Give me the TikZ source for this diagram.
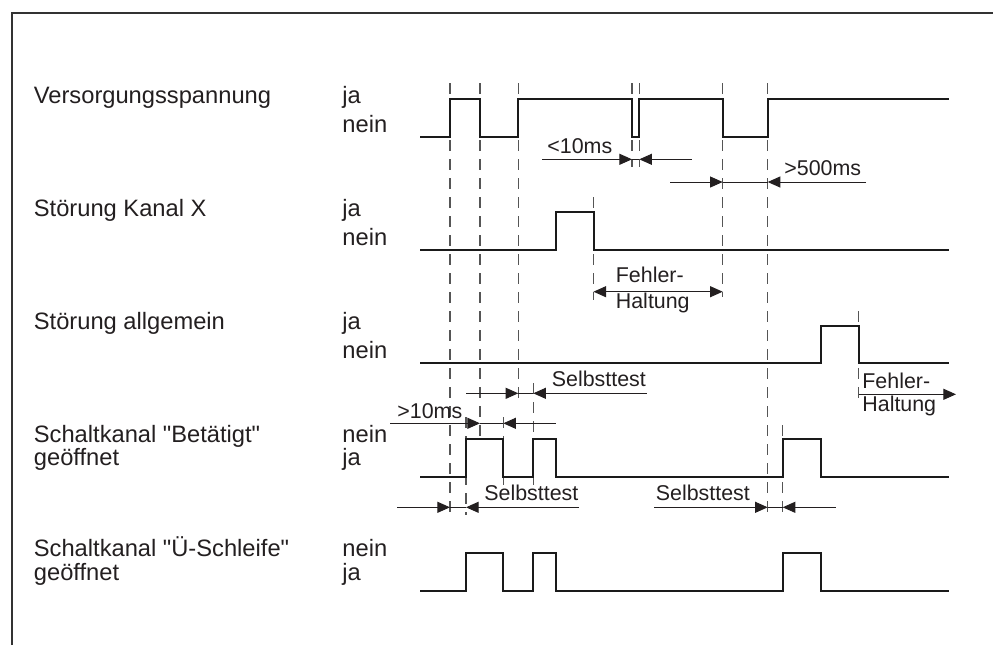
\documentclass[tikz,border=0pt]{standalone}
\usepackage{fontspec}
\setmainfont{Liberation Sans}[Ligatures=TeXOff]
\usetikzlibrary{arrows.meta}
\definecolor{ink}{HTML}{231F20}
\definecolor{wavec}{HTML}{1A1A1A}
\definecolor{guidec}{HTML}{555555}
\definecolor{framec}{HTML}{333333}
\begin{document}
\begin{tikzpicture}[x=0.5pt,y=-0.5pt,
  lbl/.style={anchor=west, inner sep=0pt, text height=0.72em, text depth=0.21em, font=\fontsize{11.85}{14}\selectfont, text=ink},
  ann/.style={anchor=west, inner sep=0pt, text height=0.72em, text depth=0.21em, font=\fontsize{10.7}{12.8}\selectfont, text=ink},
  wave/.style={line width=1pt, draw=wavec, line join=miter},
  guide/.style={line width=0.55pt, draw=guidec, dash pattern=on 5.5pt off 4pt},
  dim/.style={line width=0.5pt, draw=ink, -{Triangle[length=6.3pt,width=5.5pt]}},
  dimboth/.style={line width=0.5pt, draw=ink, {Triangle[length=6.3pt,width=5.5pt]}-{Triangle[length=6.3pt,width=5.5pt]}},
  dimline/.style={line width=0.5pt, draw=ink},
  frameline/.style={line width=0.7pt, draw=framec}
]
\useasboundingbox (0,0) rectangle (993,645);
% frame
\coordinate (fb) at (12,645);
\coordinate (fr) at (993,13);
\draw[frameline] (fb) |- (fr);

% ---------- labels ----------
\node[lbl] (l1) at (33.5,98) {Versorgungsspannung};
\node[lbl] (l2) at (33.5,211) {Störung Kanal X};
\node[lbl] (l3) at (33.5,324) {Störung allgemein};
\node[lbl] (l4a) at (33.5,437) {Schaltkanal "Betätigt"};
\node[lbl] (l4b) at (33.5,460) {geöffnet};
\node[lbl] (l5a) at (33.5,551) {Schaltkanal "Ü-Schleife"};
\node[lbl] (l5b) at (33.5,575) {geöffnet};

\node[lbl] (j1) at (342,98) {ja};
\node[lbl] (n1) at (342,127) {nein};
\node[lbl] (j2) at (342,211) {ja};
\node[lbl] (n2) at (342,240) {nein};
\node[lbl] (j3) at (342,324) {ja};
\node[lbl] (n3) at (342,353) {nein};
\node[lbl] (n4) at (342,437) {nein};
\node[lbl] (j4) at (342,460) {ja};
\node[lbl] (n5) at (342,551) {nein};
\node[lbl] (j5) at (342,575) {ja};

% ---------- guides ----------
\draw[guide] (450,83) -- (450,515);
\draw[guide] (480,83) -- (480,439);
\draw[guide] (518.3,83) -- (518.3,398);
\draw[guide] (632,83) -- (632,167);
\draw[guide] (639.3,83) -- (639.3,167);
\draw[guide] (593.5,197) -- (593.5,300);
\draw[guide] (722.7,83) -- (722.7,297);
\draw[guide] (767.7,83) -- (767.7,514);
\draw[guide] (858.7,311) -- (858.7,400);
\draw[guide] (466,417) -- (466,515);
\draw[guide] (503.3,417) -- (503.3,485);
\draw[guide] (533.3,383) -- (533.3,485);
\draw[guide] (782.7,425) -- (782.7,514);

% ---------- waveforms ----------
\draw[wave] (420,137) -- (450,137) -- (450,98.5) -- (480,98.5) -- (480,137) -- (518.3,137) -- (518.3,98.5) -- (632,98.5) -- (632,137) -- (639.3,137) -- (639.3,98.5) -- (722.7,98.5) -- (722.7,137) -- (767.7,137) -- (767.7,98.5) -- (949,98.5);
\draw[wave] (420,250) -- (556,250) -- (556,212.3) -- (593.5,212.3) -- (593.5,250) -- (949,250);
\draw[wave] (420,363.3) -- (820.7,363.3) -- (820.7,326) -- (858.7,326) -- (858.7,363.3) -- (949,363.3);
\draw[wave] (420,476.7) -- (466,476.7) -- (466,439.3) -- (503.3,439.3) -- (503.3,476.7) -- (533.3,476.7) -- (533.3,439.3) -- (556,439.3) -- (556,476.7) -- (782.7,476.7) -- (782.7,439.3) -- (820.7,439.3) -- (820.7,476.7) -- (949,476.7);
\draw[wave] (420,590.7) -- (466,590.7) -- (466,552.7) -- (503.3,552.7) -- (503.3,590.7) -- (533.3,590.7) -- (533.3,552.7) -- (556,552.7) -- (556,590.7) -- (782.7,590.7) -- (782.7,552.7) -- (820.7,552.7) -- (820.7,590.7) -- (949,590.7);

% ---------- dimensions ----------
% <10ms
\coordinate (a1s) at (542,159.3); \coordinate (a1t) at (632,159.3);
\coordinate (a1e) at (691.7,159.3); \coordinate (a1u) at (639.3,159.3);
\draw[dim] (a1s) -- (a1t); \draw[dim] (a1e) -- (a1u); \draw[dimline] (a1t) -- (a1u);
\node[ann] (t1) at (547,148) {<10ms};
% >500ms
\coordinate (a2s) at (670,182); \coordinate (a2t) at (722.7,182);
\coordinate (a2e) at (866,182); \coordinate (a2u) at (767.7,182);
\draw[dim] (a2s) -- (a2t); \draw[dim] (a2e) -- (a2u); \draw[dimline] (a2t) -- (a2u);
\node[ann] (t2) at (784,170) {>500ms};
% Fehler-Haltung (Kanal X)
\coordinate (a3s) at (593.5,291.7); \coordinate (a3e) at (722.7,291.7);
\draw[dimboth] (a3s) -- (a3e);
\node[ann] (t3a) at (615.5,277) {Fehler-};
\node[ann] (t3b) at (615.5,303) {Haltung};
% Fehler-Haltung (allgemein)
\coordinate (a4s) at (858.7,394.3); \coordinate (a4e) at (956,394.3);
\draw[dim] (a4s) -- (a4e);
\node[ann] (t4a) at (862,383.3) {Fehler-};
\node[ann] (t4b) at (862,406.5) {Haltung};
% Selbsttest top
\coordinate (a5s) at (466,393.3); \coordinate (a5t) at (518.3,393.3);
\coordinate (a5e) at (646.7,393.3); \coordinate (a5u) at (533.3,393.3);
\draw[dim] (a5s) -- (a5t); \draw[dim] (a5e) -- (a5u); \draw[dimline] (a5t) -- (a5u);
\node[ann] (t5) at (551.5,381.7) {Selbsttest};
% >10ms
\coordinate (a6s) at (390,423.3); \coordinate (a6t) at (480,423.3);
\coordinate (a6e) at (555.7,423.3); \coordinate (a6u) at (503.3,423.3);
\draw[dim] (a6s) -- (a6t); \draw[dim] (a6e) -- (a6u); \draw[dimline] (a6t) -- (a6u);
\node[ann] (t6) at (397,413) {>10ms};
% Selbsttest bottom left
\coordinate (a7s) at (397.3,507.3); \coordinate (a7t) at (450,507.3);
\coordinate (a7e) at (579,507.3); \coordinate (a7u) at (466,507.3);
\draw[dim] (a7s) -- (a7t); \draw[dim] (a7e) -- (a7u); \draw[dimline] (a7t) -- (a7u);
\node[ann] (t7) at (484,495) {Selbsttest};
% Selbsttest bottom right
\coordinate (a8s) at (654,507.3); \coordinate (a8t) at (767.7,507.3);
\coordinate (a8e) at (835.7,507.3); \coordinate (a8u) at (782.7,507.3);
\draw[dim] (a8s) -- (a8t); \draw[dim] (a8e) -- (a8u); \draw[dimline] (a8t) -- (a8u);
\node[ann] (t8) at (655.5,495) {Selbsttest};
\end{tikzpicture}
\end{document}
